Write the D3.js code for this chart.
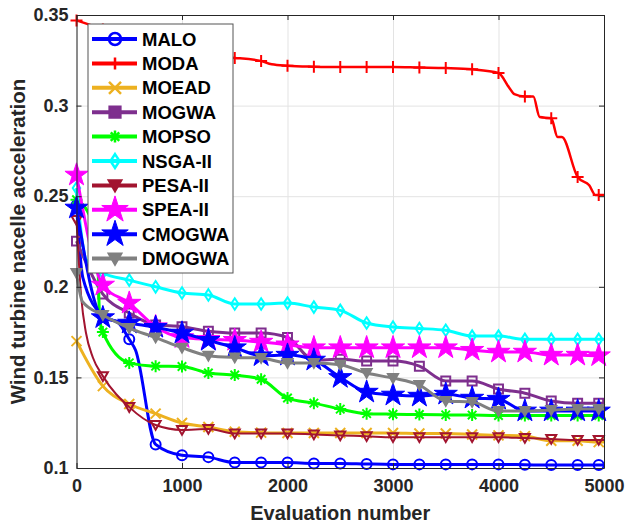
<!DOCTYPE html>
<html>
<head>
  <meta charset="utf-8">
  <style>
    body { margin: 0; background: #fff; }
    text { font-family: "Liberation Sans", Arial, sans-serif; font-weight: bold; }
    .axis path, .axis line { stroke: #262626; }
    .grid line { stroke: #e3e3e3; }
    .grid path { display: none; }
  </style>
  <script src="https://cdnjs.cloudflare.com/ajax/libs/d3/7.8.5/d3.min.js"></script>
</head>
<body>
<script>
  // marker positions (evaluation number)
  var evals = [0, 250, 500, 750, 1000, 1250, 1500, 1750, 2000, 2250, 2500,
    2750, 3000, 3250, 3500, 3750, 4000, 4250, 4500, 4750, 4950];
  var xTicks = [0, 1000, 2000, 3000, 4000, 5000];
  var yTicks = [0.1, 0.15, 0.2, 0.25, 0.3, 0.35];
  var yTickLabels = ["0.1", "0.15", "0.2", "0.25", "0.3", "0.35"];

  var names = ["MALO", "MODA", "MOEAD", "MOGWA", "MOPSO", "NSGA-II", "PESA-II", "SPEA-II", "CMOGWA", "DMOGWA"];

  var malo = [0.245, 0.184, 0.171, 0.113, 0.107, 0.106, 0.103, 0.103, 0.103, 0.1025, 0.1025,
    0.1022, 0.102, 0.102, 0.102, 0.102, 0.102, 0.1018, 0.1016, 0.1016, 0.1016];
  var moda = [0.347, 0.342, 0.336, 0.332, 0.329, 0.327, 0.3263, 0.3246, 0.322, 0.3215, 0.3213,
    0.3213, 0.3213, 0.321, 0.3207, 0.320, 0.318, 0.305, 0.293, 0.2606, 0.2506];
  var moead = [0.170, 0.1452, 0.1353, 0.130, 0.1248, 0.1226, 0.120, 0.1195, 0.1193, 0.1193, 0.1193,
    0.1193, 0.1193, 0.119, 0.119, 0.1185, 0.118, 0.1176, 0.115, 0.115, 0.1143];
  var mogwa = [0.2252, 0.196, 0.1855, 0.179, 0.178, 0.1755, 0.1745, 0.1745, 0.172, 0.1596, 0.160,
    0.159, 0.159, 0.1562, 0.148, 0.148, 0.1436, 0.1413, 0.137, 0.1357, 0.1357];
  var mopso = [0.248, 0.175, 0.158, 0.1562, 0.156, 0.1524, 0.1513, 0.149, 0.1386, 0.1358, 0.1325,
    0.130, 0.1297, 0.1295, 0.1293, 0.1292, 0.129, 0.129, 0.129, 0.129, 0.129];
  var nsga2 = [0.2545, 0.2076, 0.2037, 0.200, 0.1966, 0.1955, 0.1905, 0.1905, 0.191, 0.1888, 0.187,
    0.180, 0.1778, 0.177, 0.176, 0.1728, 0.1728, 0.171, 0.171, 0.171, 0.171];
  var pesa2 = [0.2368, 0.1507, 0.1336, 0.1237, 0.121, 0.1215, 0.119, 0.119, 0.119, 0.1185, 0.118,
    0.1175, 0.117, 0.117, 0.117, 0.117, 0.117, 0.1165, 0.116, 0.1155, 0.1155];
  var spea2 = [0.2617, 0.201, 0.191, 0.178, 0.172, 0.171, 0.1705, 0.1695, 0.168, 0.1664, 0.1664,
    0.1664, 0.1664, 0.1664, 0.1664, 0.165, 0.164, 0.164, 0.1623, 0.1623, 0.162];
  var cmogwa = [0.2435, 0.183, 0.180, 0.1777, 0.1745, 0.1705, 0.1664, 0.162, 0.1623, 0.1596, 0.150,
    0.1419, 0.1403, 0.1397, 0.1408, 0.1386, 0.138, 0.1315, 0.1315, 0.1315, 0.1315];
  var dmogwa = [0.2076, 0.1844, 0.1772, 0.172, 0.1664, 0.162, 0.161, 0.1607, 0.158, 0.158, 0.157,
    0.1524, 0.1496, 0.1458, 0.137, 0.1364, 0.1314, 0.1314, 0.132, 0.1325, 0.1325];

  // points between markers (line only): [evaluation, value]
  var modaSteps = [[1850, 0.3228], [4100, 0.310], [4150, 0.3063], [4330, 0.305], [4390, 0.2937],
    [4560, 0.2827], [4600, 0.2827], [4860, 0.256], [4920, 0.2506]];
  var pesaSteps = [[45, 0.194], [90, 0.1745], [155, 0.161]];
  var mopsoSteps = [[100, 0.242], [195, 0.226], [220, 0.182]];
  var dmogwaSteps = [[55, 0.192]];
  var maloSteps = [[60, 0.205], [400, 0.18], [560, 0.165]];
  var nsgaSteps = [[90, 0.215]];

  var series = [
    { name: names[0], values: malo, steps: maloSteps, color: "#0000ff", marker: "circle", width: 3 },
    { name: names[1], values: moda, steps: modaSteps, color: "#ff0000", marker: "plus", width: 2.5 },
    { name: names[2], values: moead, steps: [], color: "#edb120", marker: "x", width: 3 },
    { name: names[3], values: mogwa, steps: [], color: "#7e2f8e", marker: "square", width: 3 },
    { name: names[4], values: mopso, steps: mopsoSteps, color: "#00ff00", marker: "asterisk", width: 3 },
    { name: names[5], values: nsga2, steps: nsgaSteps, color: "#00ffff", marker: "diamond", width: 3 },
    { name: names[6], values: pesa2, steps: pesaSteps, color: "#a2142f", marker: "triangle", width: 2 },
    { name: names[7], values: spea2, steps: [], color: "#ff00ff", marker: "star", width: 3 },
    { name: names[8], values: cmogwa, steps: [], color: "#0000ff", marker: "star", width: 3 },
    { name: names[9], values: dmogwa, steps: dmogwaSteps, color: "#808080", marker: "triangleFill", width: 3 }
  ];

  var W = 625, H = 526;
  var plot = { left: 76.5, right: 604, top: 15, bottom: 468 };

  var x = d3.scaleLinear().domain([0, 5000]).range([plot.left, plot.right]);
  var y = d3.scaleLinear().domain([0.1, 0.35]).range([plot.bottom, plot.top]);

  var svg = d3.select("body").append("svg")
    .attr("width", W)
    .attr("height", H);

  // grid
  svg.append("g")
    .attr("class", "grid")
    .attr("transform", "translate(0," + plot.bottom + ")")
    .call(d3.axisBottom(x).tickValues(xTicks).tickSize(-(plot.bottom - plot.top)).tickFormat(""));
  svg.append("g")
    .attr("class", "grid")
    .attr("transform", "translate(" + plot.left + ",0)")
    .call(d3.axisLeft(y).tickValues(yTicks).tickSize(-(plot.right - plot.left)).tickFormat(""));

  svg.append("defs").append("clipPath")
    .attr("id", "clip")
    .append("rect")
    .attr("x", plot.left - 12).attr("y", plot.top - 12)
    .attr("width", plot.right - plot.left + 24)
    .attr("height", plot.bottom - plot.top + 24);

  function markerPath(type, s) {
    var r = s / 2;
    switch (type) {
      case "circle":
        return d3.symbol(d3.symbolCircle, Math.PI * r * r)();
      case "square":
        return d3.symbol(d3.symbolSquare, s * s * 0.8)();
      case "diamond":
        return "M0," + (-r * 1.15) + "L" + (r * 0.75) + ",0L0," + (r * 1.15) + "L" + (-r * 0.75) + ",0Z";
      case "triangle":
      case "triangleFill":
        return "M" + (-r) + "," + (-r * 0.8) + "L" + r + "," + (-r * 0.8) + "L0," + (r * 0.95) + "Z";
      case "star":
        return d3.symbol(d3.symbolStar, s * s * 0.85)();
      case "plus":
        return "M" + (-r) + ",0L" + r + ",0M0," + (-r) + "L0," + r;
      case "x":
        return "M" + (-r) + "," + (-r) + "L" + r + "," + r + "M" + (-r) + "," + r + "L" + r + "," + (-r);
      case "asterisk":
        var a = r * 0.707;
        return "M" + (-r) + ",0L" + r + ",0M0," + (-r) + "L0," + r +
          "M" + (-a) + "," + (-a) + "L" + a + "," + a + "M" + (-a) + "," + a + "L" + a + "," + (-a);
    }
  }
  function markerFill(s) {
    if (s.marker == "star" || s.marker == "triangleFill") return s.color;
    return "none";
  }
  function markerSize(s) {
    if (s.marker == "star") return 14;
    if (s.marker == "plus" || s.marker == "asterisk") return 12;
    return 10;
  }

  var line = d3.line()
    .x(function(d) { return x(d[0]); })
    .y(function(d) { return y(d[1]); })
    .curve(d3.curveMonotoneX);

  var marks = svg.append("g").attr("clip-path", "url(#clip)");

  series.forEach(function(s) {
    var pts = evals.map(function(e, i) { return [e, s.values[i]]; });
    var lineData = pts.concat(s.steps);
    lineData.push([5000, s.values[s.values.length - 1]]);
    lineData.sort(function(a, b) { return a[0] - b[0]; });

    var g = marks.append("g");
    g.append("path")
      .datum(lineData)
      .attr("fill", "none")
      .attr("stroke", s.color)
      .attr("stroke-width", s.width)
      .attr("stroke-linejoin", "round")
      .attr("d", line);

    g.selectAll(".mk")
      .data(pts)
      .enter().append("path")
      .attr("transform", function(d) { return "translate(" + x(d[0]) + "," + y(d[1]) + ")"; })
      .attr("d", markerPath(s.marker, markerSize(s)))
      .attr("fill", markerFill(s))
      .attr("stroke", s.color)
      .attr("stroke-width", s.marker == "star" ? 1 : 2);
  });

  // axes box
  var xAxis = d3.axisBottom(x).tickValues(xTicks).tickSizeInner(-5).tickSizeOuter(0).tickPadding(11)
    .tickFormat(d3.format("d"));
  var yAxis = d3.axisLeft(y).tickValues(yTicks).tickSizeInner(-5).tickSizeOuter(0).tickPadding(8)
    .tickFormat(function(d, i) { return yTickLabels[i]; });

  svg.append("g").attr("class", "axis")
    .attr("transform", "translate(0," + plot.bottom + ")")
    .call(xAxis);
  svg.append("g").attr("class", "axis")
    .attr("transform", "translate(" + plot.left + ",0)")
    .call(yAxis);
  svg.append("g").attr("class", "axis")
    .attr("transform", "translate(0," + plot.top + ")")
    .call(d3.axisTop(x).tickValues(xTicks).tickSizeInner(-5).tickSizeOuter(0).tickFormat(""));
  svg.append("g").attr("class", "axis")
    .attr("transform", "translate(" + plot.right + ",0)")
    .call(d3.axisRight(y).tickValues(yTicks).tickSizeInner(-5).tickSizeOuter(0).tickFormat(""));

  svg.selectAll(".axis text")
    .attr("fill", "#262626")
    .style("font-size", "18px")
    .style("font-weight", "bold")
    .style("font-family", "'Liberation Sans', Arial, sans-serif");

  svg.append("text")
    .attr("x", (plot.left + plot.right) / 2)
    .attr("y", 520)
    .attr("text-anchor", "middle")
    .attr("fill", "#262626")
    .style("font-size", "20px")
    .text("Evaluation number");

  svg.append("text")
    .attr("transform", "translate(25," + ((plot.top + plot.bottom) / 2) + ") rotate(-90)")
    .attr("text-anchor", "middle")
    .attr("fill", "#262626")
    .style("font-size", "20.5px")
    .text("Wind turbine nacelle acceleration");

  // legend
  var leg = { left: 88, top: 24, width: 145, height: 249, row: 24.4, first: 39 };
  var lg = svg.append("g");
  lg.append("rect")
    .attr("x", leg.left).attr("y", leg.top)
    .attr("width", leg.width).attr("height", leg.height)
    .attr("fill", "#fff")
    .attr("stroke", "#555")
    .attr("stroke-width", 1);

  series.forEach(function(s, i) {
    var cy = leg.first + i * leg.row;
    lg.append("line")
      .attr("x1", leg.left + 4).attr("x2", leg.left + 49)
      .attr("y1", cy).attr("y2", cy)
      .attr("stroke", s.color)
      .attr("stroke-width", 4);
    var fill = s.color;
    if (s.marker == "circle" || s.marker == "diamond") fill = "none";
    lg.append("path")
      .attr("transform", "translate(" + (leg.left + 27) + "," + cy + ")")
      .attr("d", markerPath(s.marker, s.marker == "star" ? 16 : 12))
      .attr("fill", fill)
      .attr("stroke", s.color)
      .attr("stroke-width", s.marker == "star" ? 1 : 2.5);
    lg.append("text")
      .attr("x", leg.left + 54)
      .attr("y", cy + 6.5)
      .attr("fill", "#000")
      .style("font-size", "18.5px")
      .text(s.name);
  });
</script>
</body>
</html>
